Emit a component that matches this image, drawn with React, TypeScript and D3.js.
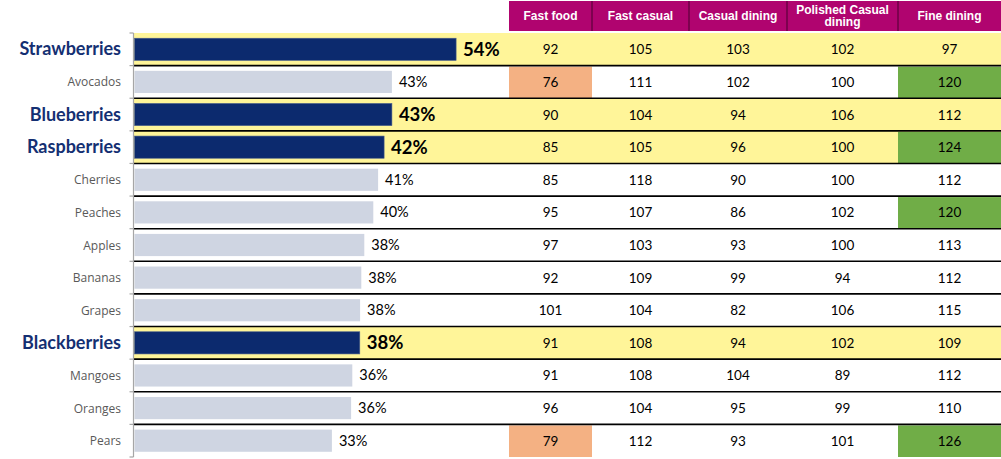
import React from 'react';
import * as d3 from 'd3';

// categories (top to bottom) and the share shown by the bars, in percent
const fruits = [
  'Strawberries', 'Avocados', 'Blueberries', 'Raspberries', 'Cherries', 'Peaches',
  'Apples', 'Bananas', 'Grapes', 'Blackberries', 'Mangoes', 'Oranges', 'Pears',
];
const share = [53.6, 42.9, 42.9, 41.6, 40.6, 39.8, 38.3, 37.8, 37.6, 37.55, 36.3, 36.1, 32.9];
const highlighted = ['Strawberries', 'Blueberries', 'Raspberries', 'Blackberries'];

// index table
const columns = ['Fast food', 'Fast casual', 'Casual dining', 'Polished Casual dining', 'Fine dining'];
const fastFood = [92, 76, 90, 85, 85, 95, 97, 92, 101, 91, 91, 96, 79];
const fastCasual = [105, 111, 104, 105, 118, 107, 103, 109, 104, 108, 108, 104, 112];
const casualDining = [103, 102, 94, 96, 90, 86, 93, 99, 82, 94, 104, 95, 93];
const polishedCasual = [102, 100, 106, 100, 100, 102, 100, 94, 106, 102, 89, 99, 101];
const fineDining = [97, 120, 112, 124, 112, 120, 113, 112, 115, 109, 112, 110, 126];

const W = 1001;
const H = 459;
const axisX = 134;
const tableLeft = 509;
const colWidths = [83, 97, 98, 111, 103];

const NAVY = '#0c2a6e';
const LIGHT = '#cfd5e2';
const YELLOW = '#fff599';
const MAGENTA = '#b0046f';
const ORANGE = '#f4b183';
const GREEN = '#70ad47';
const FONT = 'Lato, "Open Sans", sans-serif';
const LABEL_FONT = '"Open Sans", Lato, sans-serif';
const HEAD_FONT = '"Liberation Sans", Arial, sans-serif';

export default function App() {
  const y = d3.scaleBand<string>().domain(fruits).range([33, 457]).padding(0);
  const x = d3.scaleLinear().domain([0, 100]).range([axisX + 0.5, axisX + 600.5]);
  const pct = d3.format('.0%');
  const barH = y.bandwidth() * 0.68;

  const colEdges = colWidths.reduce<number[]>((acc, w) => [...acc, acc[acc.length - 1] + w], [tableLeft]);
  const tableCols = [fastFood, fastCasual, casualDining, polishedCasual, fineDining];
  const cellFill = (v: number) => (v >= 120 ? GREEN : v <= 80 ? ORANGE : 'none');

  return (
    <svg width={W} height={H} style={{ position: 'absolute', left: 0, top: 0, display: 'block' }}>
      {/* row backgrounds */}
      {fruits.map(f =>
        highlighted.includes(f) ? (
          <rect key={f} x={axisX} y={y(f)} width={W - axisX} height={y.bandwidth()} fill={YELLOW} />
        ) : null
      )}

      {/* header */}
      <rect x={tableLeft} y={1} width={W - tableLeft} height={30} fill={MAGENTA} />
      {columns.map((c, i) => {
        const cx = (colEdges[i] + colEdges[i + 1]) / 2;
        const words = c === 'Polished Casual dining' ? ['Polished Casual', 'dining'] : [c];
        return (
          <g key={c}>
            {i > 0 && (
              <line x1={colEdges[i]} x2={colEdges[i]} y1={1} y2={31} stroke="#4a0030" strokeWidth={1} />
            )}
            {words.map((w, k) => (
              <text
                key={w}
                x={cx}
                y={words.length === 1 ? 20 : 14 + k * 12}
                textAnchor="middle"
                fill="#fff"
                fontFamily={HEAD_FONT}
                fontWeight="bold"
                fontSize={12}
              >
                {w}
              </text>
            ))}
          </g>
        );
      })}

      {/* coloured table cells and values */}
      {tableCols.map((vals, ci) =>
        vals.map((v, ri) => {
          const top = y(fruits[ri])!;
          const fill = cellFill(v);
          return (
            <g key={`${ci}-${ri}`}>
              {fill !== 'none' && (
                <rect x={colEdges[ci]} y={top + 1} width={colEdges[ci + 1] - colEdges[ci]} height={y.bandwidth() - 1} fill={fill} />
              )}
              <text
                x={(colEdges[ci] + colEdges[ci + 1]) / 2}
                y={top + y.bandwidth() / 2 + 5}
                textAnchor="middle"
                fontFamily={FONT}
                fontSize={13.5}
                fill="#000"
              >
                {v}
              </text>
            </g>
          );
        })
      )}

      {/* bars */}
      {fruits.map((f, i) => {
        const hi = highlighted.includes(f);
        const top = y(f)! + (y.bandwidth() - barH) / 2;
        return (
          <g key={f}>
            <rect
              x={x(0)}
              y={top}
              width={x(share[i]) - x(0)}
              height={barH}
              fill={hi ? NAVY : LIGHT}
              stroke={hi ? '#4a5f8c' : 'none'}
              strokeWidth={0.6}
            />
            <text
              x={x(share[i]) + 7}
              y={y(f)! + y.bandwidth() / 2 + (hi ? 6.5 : 5)}
              fontFamily={FONT}
              fontWeight={hi ? 'bold' : 'normal'}
              fontSize={hi ? 18.5 : 14.5}
              fill="#000"
            >
              {pct(share[i] / 100)}
            </text>
            <text
              x={121}
              y={y(f)! + y.bandwidth() / 2 + (hi ? 6 : 4.5)}
              textAnchor="end"
              fontFamily={hi ? FONT : LABEL_FONT}
              fontWeight={hi ? 'bold' : 'normal'}
              fontSize={hi ? 18 : 12}
              fill={hi ? '#142f72' : '#595959'}
            >
              {f}
            </text>
          </g>
        );
      })}

      {/* row separators */}
      {fruits.slice(1).map(f => (
        <line key={f} x1={axisX} x2={W} y1={y(f)} y2={y(f)} stroke="#000" strokeWidth={1.6} />
      ))}

      {/* category axis */}
      <line x1={axisX - 0.5} x2={axisX - 0.5} y1={33} y2={457} stroke="#a6a6a6" strokeWidth={1.2} />
      {[...fruits.map(f => y(f)!), 457].map((t, i) => (
        <line key={i} x1={axisX - 4.5} x2={axisX - 0.5} y1={t} y2={t} stroke="#a6a6a6" strokeWidth={1.2} />
      ))}
    </svg>
  );
}
